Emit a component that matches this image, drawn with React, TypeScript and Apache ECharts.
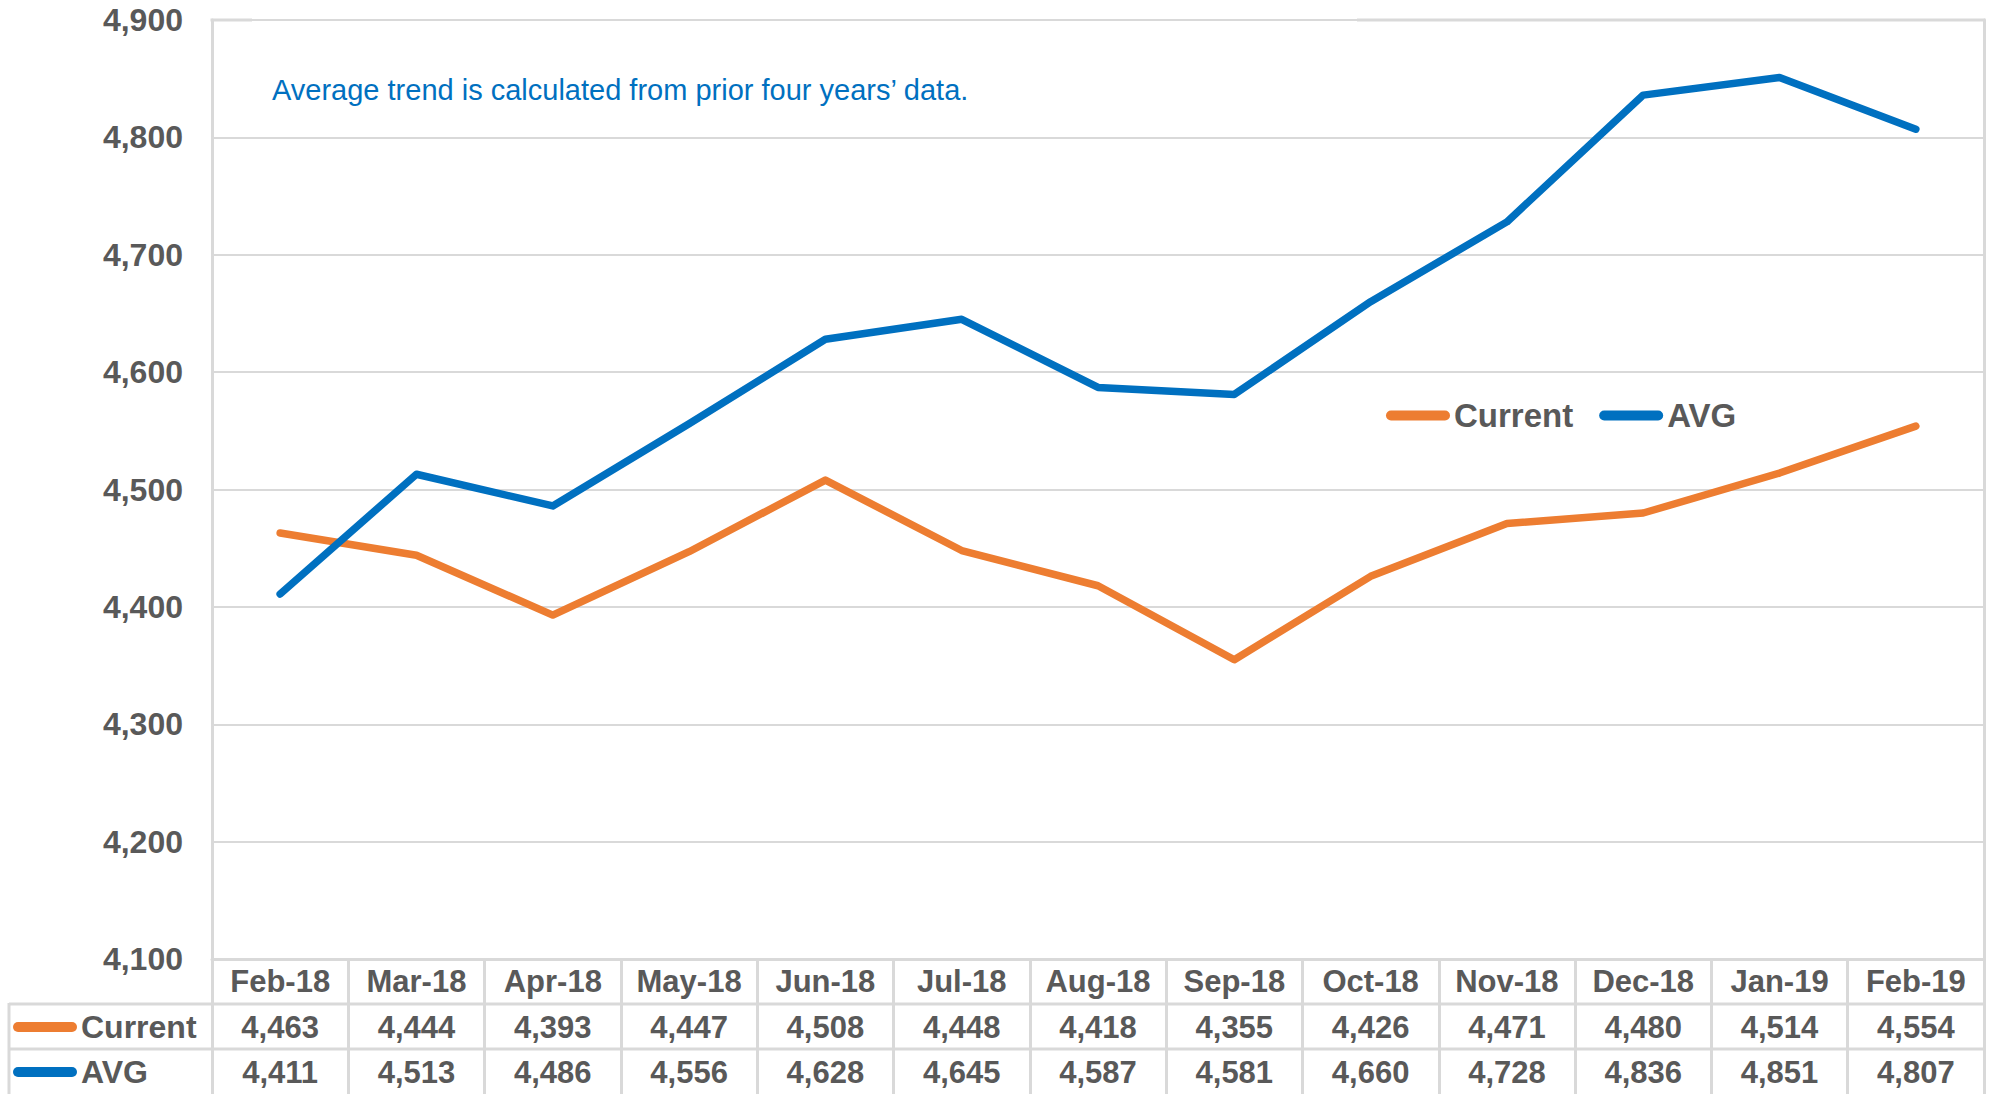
import React, { useEffect, useRef } from "react";
import * as echarts from "echarts";

const categories = ["Feb-18", "Mar-18", "Apr-18", "May-18", "Jun-18", "Jul-18", "Aug-18", "Sep-18", "Oct-18", "Nov-18", "Dec-18", "Jan-19", "Feb-19"];
const currentValues = [4463, 4444, 4393, 4447, 4508, 4448, 4418, 4355, 4426, 4471, 4480, 4514, 4554];
const avgValues = [4411, 4513, 4486, 4556, 4628, 4645, 4587, 4581, 4660, 4728, 4836, 4851, 4807];
const seriesNames = ["Current", "AVG"];
const annotation = "Average trend is calculated from prior four years\u2019 data.";

const ORANGE = "#ED7D31";
const BLUE = "#0070C0";
const GREY = "#D9D9D9";
const TEXT = "#595959";
const FONT = "'Liberation Sans', Arial, sans-serif";

const fmt = (v: number) => v.toLocaleString("en-US");
const pill = "path://M5,0 L59,0 A5,5 0 0 1 59,10 L5,10 A5,5 0 0 1 5,0 Z";

export default function App() {
  const ref = useRef<HTMLDivElement>(null);
  useEffect(() => {
    if (!ref.current) return;
    const chart = echarts.init(ref.current, null, { renderer: "svg" });
    const L = 212, T = 20, R = 1984, B = 959;
    const tableLabel = {
      interval: 0,
      fontFamily: FONT,
      fontSize: 31,
      fontWeight: "bold" as const,
      color: TEXT,
      verticalAlign: "middle" as const,
    };
    chart.setOption({
      animation: false,
      backgroundColor: "#ffffff",
      grid: { left: L, top: T, width: R - L, height: B - T, show: false },
      legend: [
        {
          data: seriesNames,
          left: 1386,
          top: 399,
          padding: 0,
          icon: pill,
          itemWidth: 66,
          itemHeight: 10,
          itemGap: 26,
          textStyle: { fontFamily: FONT, fontSize: 33, fontWeight: "bold", color: TEXT, padding: [0, 0, 0, -2] },
        },
        {
          data: seriesNames,
          orient: "vertical",
          left: 13,
          top: 1011,
          padding: 0,
          icon: pill,
          itemWidth: 66,
          itemHeight: 10,
          itemGap: 13,
          textStyle: { fontFamily: FONT, fontSize: 32, fontWeight: "bold", color: TEXT, padding: [0, 0, 0, -2] },
        },
      ],
      xAxis: [
        {
          type: "category",
          data: categories,
          boundaryGap: true,
          position: "bottom",
          axisLine: { show: true, lineStyle: { color: GREY, width: 3 } },
          axisTick: { show: true, inside: false, length: 136, alignWithLabel: false, lineStyle: { color: GREY, width: 3 } },
          axisLabel: { ...tableLabel, margin: 22 },
          splitLine: { show: false },
        },
        {
          type: "category",
          data: categories,
          boundaryGap: true,
          position: "bottom",
          offset: 45,
          axisLine: { show: false },
          axisTick: { show: false },
          axisLabel: { ...tableLabel, margin: 23, formatter: (_v: string, i: number) => fmt(currentValues[i]) },
        },
        {
          type: "category",
          data: categories,
          boundaryGap: true,
          position: "bottom",
          offset: 90,
          axisLine: { show: false },
          axisTick: { show: false },
          axisLabel: { ...tableLabel, margin: 23, formatter: (_v: string, i: number) => fmt(avgValues[i]) },
        },
      ],
      yAxis: [
        {
          type: "value",
          min: 4100,
          max: 4900,
          interval: 100,
          axisLine: { show: true, lineStyle: { color: GREY, width: 3 } },
          axisTick: { show: false },
          axisLabel: {
            fontFamily: FONT,
            fontSize: 32,
            fontWeight: "bold",
            color: TEXT,
            margin: 29,
            formatter: (v: number) => fmt(v),
          },
          splitLine: { show: true, lineStyle: { color: GREY, width: 2 } },
        },
        {
          type: "value",
          min: 4100,
          max: 4900,
          interval: 100,
          position: "right",
          axisLine: { show: true, lineStyle: { color: GREY, width: 3 } },
          axisTick: { show: false },
          axisLabel: { show: false },
          splitLine: { show: false },
        },
      ],
      series: [
        {
          name: seriesNames[0],
          type: "line",
          data: currentValues,
          symbol: "none",
          lineStyle: { color: ORANGE, width: 7.5, cap: "round", join: "round" },
          itemStyle: { color: ORANGE },
        },
        {
          name: seriesNames[1],
          type: "line",
          data: avgValues,
          symbol: "none",
          lineStyle: { color: BLUE, width: 7.5, cap: "round", join: "round" },
          itemStyle: { color: BLUE },
        },
      ],
      graphic: [
        { type: "line", shape: { x1: L - 1.5, y1: T, x2: 252, y2: T }, style: { stroke: GREY, lineWidth: 3 }, silent: true },
        { type: "line", shape: { x1: 1357, y1: T, x2: R + 1.5, y2: T }, style: { stroke: GREY, lineWidth: 3 }, silent: true },
        { type: "line", shape: { x1: 9, y1: 1004, x2: R, y2: 1004 }, style: { stroke: GREY, lineWidth: 3 }, silent: true },
        { type: "line", shape: { x1: 9, y1: 1049, x2: R, y2: 1049 }, style: { stroke: GREY, lineWidth: 3 }, silent: true },
        { type: "line", shape: { x1: 9, y1: 1003, x2: 9, y2: 1094 }, style: { stroke: GREY, lineWidth: 3 }, silent: true },
        {
          type: "text",
          x: 272,
          y: 90,
          style: { text: annotation, fill: BLUE, fontFamily: FONT, fontSize: 29, verticalAlign: "middle", align: "left" },
          silent: true,
        },
      ],
    });
    return () => chart.dispose();
  }, []);
  return <div ref={ref} style={{ position: "fixed", left: 0, top: 0, width: 1992, height: 1094 }} />;
}
